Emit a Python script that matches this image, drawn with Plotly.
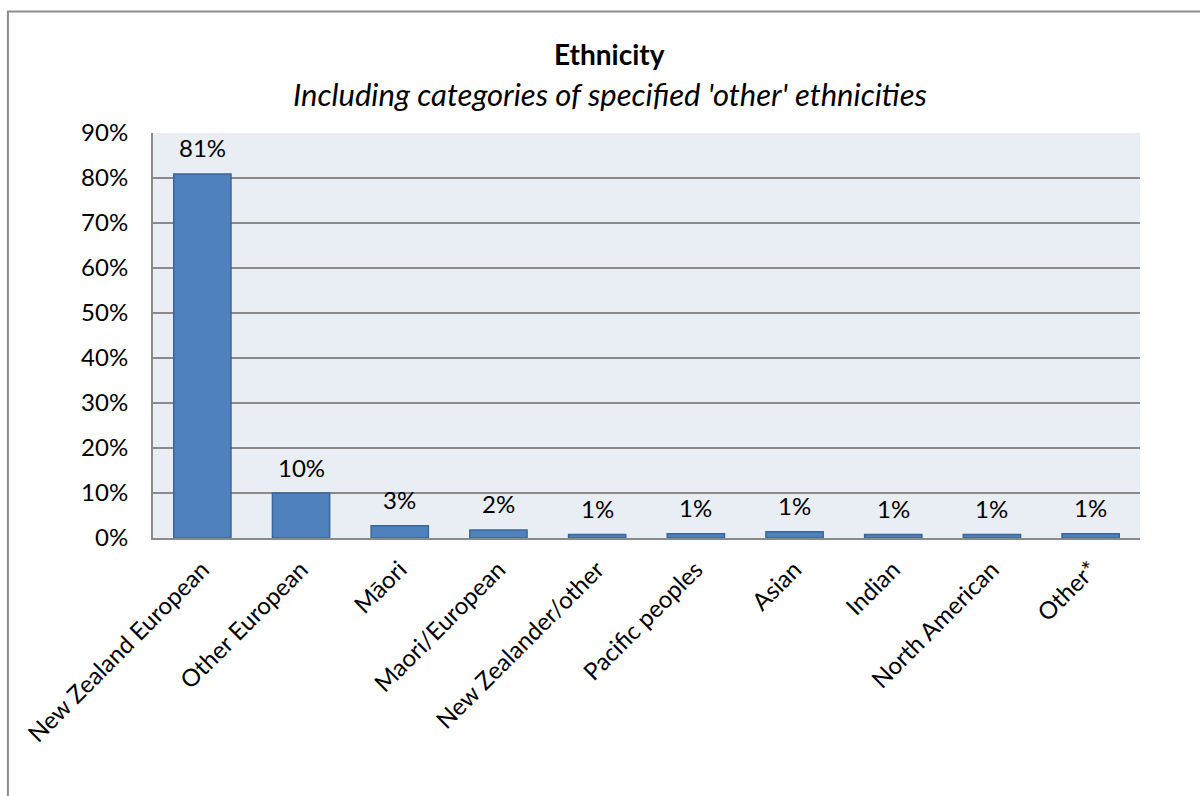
import plotly.graph_objects as go

# Survey responses by ethnicity (share of respondents)
categories = [
    "New Zealand European", "Other European", "Māori", "Maori/European",
    "New Zealander/other", "Pacific peoples", "Asian", "Indian",
    "North American", "Other*",
]
shares = [0.809, 0.100, 0.027, 0.018, 0.008, 0.0095, 0.014, 0.008, 0.008, 0.0095]

title_text = "Ethnicity"
subtitle_text = "Including categories of specified 'other' ethnicities"

FONT = "Lato, 'Open Sans', sans-serif"
GRID = "#8a8a8a"
LABEL_SIZE = 24
TITLE_X = 0.463  # centred on the whole chart frame rather than the plot area

fig = go.Figure(
    go.Bar(
        x=categories,
        y=shares,
        marker=dict(color="#4F81BD", line=dict(color="#3A6699", width=1.5)),
        hoverinfo="x+y",
    )
)

# Value labels above each bar, formatted from the bar value itself
for cat, val in zip(categories, shares):
    fig.add_annotation(
        x=cat, y=val, xref="x", yref="y",
        text=f"{val:.0%}", showarrow=False,
        yanchor="middle", yshift=26,
        font=dict(family=FONT, size=LABEL_SIZE, color="#000000"),
    )

# Title block
fig.add_annotation(
    x=TITLE_X, y=1.0, xref="paper", yref="paper", yshift=79,
    text=f"<b>{title_text}</b>", showarrow=False, yanchor="middle",
    font=dict(family=FONT, size=28, color="#000000"),
)
fig.add_annotation(
    x=TITLE_X, y=1.0, xref="paper", yref="paper", yshift=39,
    text=f"<i>{subtitle_text}</i>", showarrow=False, yanchor="middle",
    font=dict(family=FONT, size=31, color="#000000"),
)

# Outer chart frame
fig.add_shape(
    type="rect", xref="paper", yref="paper",
    x0=-0.147, x1=1.08, y0=-0.7, y1=1.30,
    line=dict(color="#8c8c8c", width=2), fillcolor="rgba(0,0,0,0)",
    layer="below",
)

fig.update_layout(
    width=1200, height=796,
    margin=dict(l=153, r=60, t=133, b=258),
    paper_bgcolor="#ffffff",
    plot_bgcolor="#E9EDF4",
    bargap=0.42,
    showlegend=False,
    font=dict(family=FONT, size=LABEL_SIZE, color="#000000"),
    xaxis=dict(
        tickangle=-45,
        showgrid=False,
        showline=True, linecolor=GRID, linewidth=2,
        ticks="", ticklabelstandoff=6,
        tickfont=dict(family=FONT, size=LABEL_SIZE, color="#000000"),
    ),
    yaxis=dict(
        range=[0, 0.9], dtick=0.1, tickformat=".0%",
        showgrid=True, gridcolor=GRID, gridwidth=2,
        showline=True, linecolor=GRID, linewidth=2,
        zeroline=False,
        ticks="", ticklabelstandoff=18,
        tickfont=dict(family=FONT, size=LABEL_SIZE, color="#000000"),
    ),
)

fig.write_html("out.html")
